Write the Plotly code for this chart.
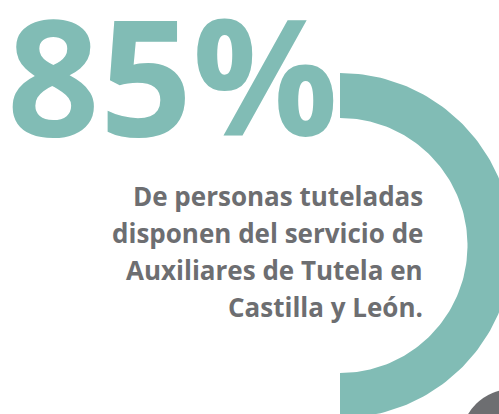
import numpy as np
import plotly.graph_objects as go

# Datos del gráfico
porcentaje = 85
lineas = ["De personas tuteladas", "disponen del servicio de",
          "Auxiliares de Tutela en", "Castilla y León."]

# Colores
verde = "#81bcb5"
gris = "#6d6e71"

W, H = 499, 414

# anillo (medio donut a la derecha)
cx, cy = 340, 245.5
r_ext, r_int = 172.5, 127.5
ang = np.linspace(-np.pi / 2, np.pi / 2, 120)
xs = np.concatenate([cx + r_ext * np.cos(ang), cx + r_int * np.cos(ang[::-1])])
ys = np.concatenate([cy + r_ext * np.sin(ang), cy + r_int * np.sin(ang[::-1])])

fig = go.Figure()
fig.add_trace(go.Scatter(x=xs, y=ys, fill="toself", fillcolor=verde, mode="lines",
                         line=dict(width=0, color=verde), hoverinfo="skip", showlegend=False))

# círculo gris abajo a la derecha
fig.add_shape(type="circle", x0=512 - 51, x1=512 + 51, y0=440 - 51, y1=440 + 51,
              xref="x", yref="y", fillcolor=gris, line_width=0, layer="above")

# Número grande
fig.add_annotation(x=5, y=73, xref="x", yref="y", text=f"{porcentaje}%", showarrow=False,
                   xanchor="left", yanchor="middle",
                   font=dict(family="Open Sans", size=162, color=verde, weight="bold"))

# Texto
ys_txt = [196, 233, 270, 307]
for t, yy in zip(lineas, ys_txt):
    fig.add_annotation(x=425, y=yy, xref="x", yref="y", text=t, showarrow=False,
                       xanchor="right", yanchor="middle",
                       font=dict(family="Open Sans", size=26, color=gris, weight="bold"))

fig.update_layout(
    width=W, height=H,
    margin=dict(l=0, r=0, t=0, b=0),
    paper_bgcolor="white", plot_bgcolor="white",
    xaxis=dict(range=[0, W], visible=False, fixedrange=True),
    yaxis=dict(range=[H, 0], visible=False, fixedrange=True),
)

# quitar el margen del body del navegador
fig.write_html("out.html", config={"displayModeBar": False},
               post_script="document.body.style.margin='0';document.body.style.overflow='hidden';")
